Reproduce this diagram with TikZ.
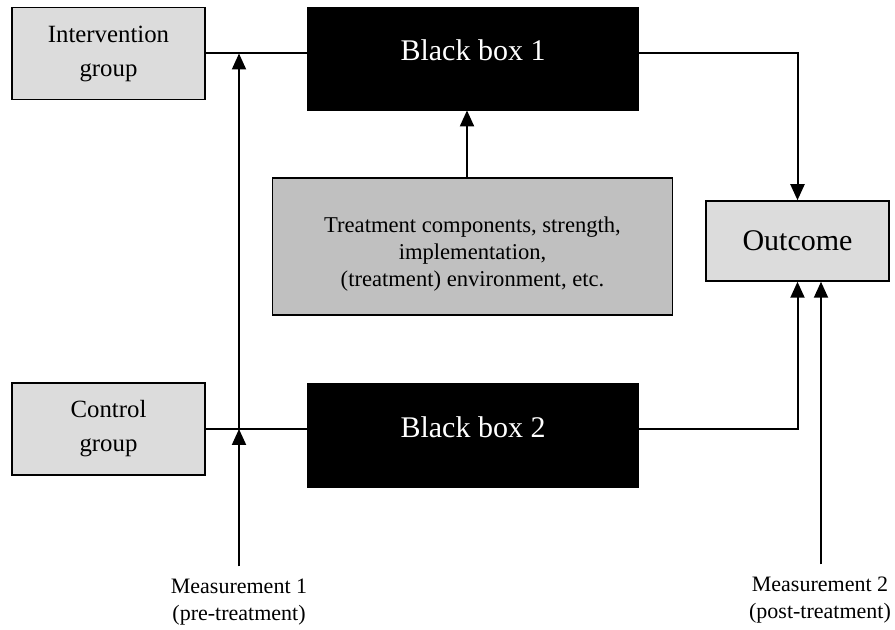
\documentclass[tikz,border=0pt]{standalone}
\usepackage{fontspec}
\setmainfont{Liberation Serif}
\usetikzlibrary{arrows.meta}
\definecolor{groupgray}{HTML}{DCDCDC}
\definecolor{treatgray}{HTML}{C0C0C0}
\begin{document}
\begin{tikzpicture}[x=0.5pt,y=-0.5pt,
  conn/.style={line width=1pt, draw=black},
  arr/.style={conn, -{Triangle[width=7pt,length=8pt]}},
  groupbox/.style={draw=black, line width=0.75pt, fill=groupgray,
    minimum width=96.5pt, minimum height=46pt, inner sep=0pt,
    align=center, font=\fontsize{12.4}{17}\selectfont},
  blackbox/.style={draw=black, fill=black, minimum width=165.5pt,
    inner sep=0pt},
  boxlabel/.style={text=white, font=\fontsize{15}{18}\selectfont, yshift=4pt},
  outbox/.style={draw=black, line width=0.75pt, fill=groupgray,
    minimum width=91.5pt, minimum height=40pt, inner sep=0pt,
    font=\fontsize{15}{18}\selectfont},
  treatbox/.style={draw=black, line width=0.75pt, fill=treatgray,
    minimum width=200pt, minimum height=68.5pt, inner sep=0pt},
  treatlabel/.style={align=center, font=\fontsize{11.3}{13.5}\selectfont, yshift=-4pt},
  measure/.style={align=center, inner sep=0pt, font=\fontsize{11}{13.5}\selectfont}]
\useasboundingbox (0,0) rectangle (895,630);

% boxes
\node[groupbox] (iv) at (108.5,53.5) {Intervention\\group};
\node[groupbox] (cg) at (108.5,429) {Control\\group};
\node[blackbox, minimum height=51.5pt,
  label={[name=bb1t, boxlabel]center:Black box 1}] (bb1) at (473,58.5) {};
\node[blackbox, minimum height=52pt,
  label={[name=bb2t, boxlabel]center:Black box 2}] (bb2) at (473,435) {};
\node[outbox] (out) at (797.5,241) {Outcome};
\node[treatbox,
  label={[name=trt, treatlabel]center:Treatment components, strength,\\implementation,\\(treatment) environment, etc.}] (tr) at (472.5,246.5) {};
\node[measure] (m1) at (239,602) {Measurement 1\\(pre-treatment)};
\node[measure] (m2) at (820,600) {Measurement 2\\(post-treatment)};

% helper columns
\coordinate (jx) at (239,0);
\coordinate (tx) at (467,0);

% connectors
\draw[conn] (iv.east) -- (iv.east -| bb1.west);
\draw[conn] (cg.east) -- (cg.east -| bb2.west);
\draw[arr] ([yshift=6pt]m1.north) -- (jx |- cg.east);
\draw[arr] (jx |- cg.east) -- (jx |- iv.east);
\draw[arr] (tx |- tr.north) -- (tx |- bb1.south);
\draw[arr] (iv.east -| bb1.east) -| (out.north);
\draw[arr] (cg.east -| bb2.east) -| (out.south);
\draw[arr] ([xshift=0.5pt,yshift=6pt]m2.north) -- ([xshift=0.5pt]m2.north |- out.south);
\end{tikzpicture}
\end{document}
